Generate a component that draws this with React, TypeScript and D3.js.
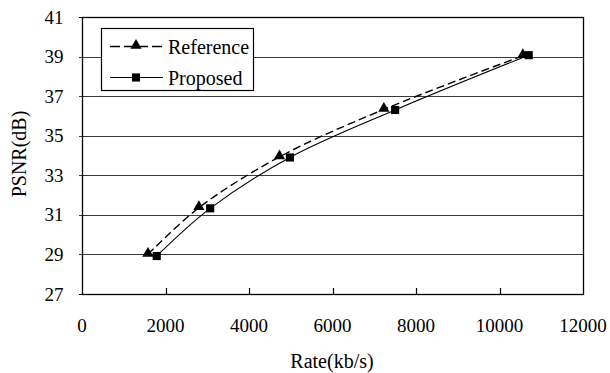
import React, { useEffect, useRef } from "react";
import * as d3 from "d3";

// values
const referenceRate = [1580, 2800, 4730, 7230, 10560];
const referencePsnr = [29.0, 31.36, 33.93, 36.33, 39.04];
const proposedRate = [1790, 3070, 4980, 7500, 10700];
const proposedPsnr = [28.92, 31.33, 33.9, 36.3, 39.07];
const xTicks = [0, 2000, 4000, 6000, 8000, 10000, 12000];
const yTicks = [27, 29, 31, 33, 35, 37, 39, 41];
const seriesNames = ["Reference", "Proposed"];

const W = 610;
const H = 373;
const FONT = "Liberation Serif, DejaVu Serif, serif";

const App = () => {
  const ref = useRef<SVGSVGElement>(null);

  useEffect(() => {
    const svg = d3.select(ref.current);
    svg.selectAll("*").remove();

    const left = 82, right = 583, top = 17, bottom = 294;
    const x = d3.scaleLinear().domain([0, 12000]).range([left, right]);
    const y = d3.scaleLinear().domain([27, 41]).range([bottom, top]);

    // gridlines
    svg.append("g")
      .selectAll("line")
      .data(yTicks.filter((t) => t > 27 && t < 41))
      .join("line")
      .attr("x1", left - 3)
      .attr("x2", right)
      .attr("y1", (d) => Math.round(y(d)) + 0.5)
      .attr("y2", (d) => Math.round(y(d)) + 0.5)
      .attr("stroke", "#3a3a3a")
      .attr("stroke-width", 1.2);

    // plot frame
    svg.append("rect")
      .attr("x", left + 0.5)
      .attr("y", top + 0.5)
      .attr("width", right - left)
      .attr("height", bottom - top)
      .attr("fill", "none")
      .attr("stroke", "#000")
      .attr("stroke-width", 1.3);

    // x ticks pointing into the plot
    svg.append("g")
      .selectAll("line")
      .data(xTicks.filter((t) => t > 0 && t < 12000))
      .join("line")
      .attr("x1", (d) => Math.round(x(d)) + 0.5)
      .attr("x2", (d) => Math.round(x(d)) + 0.5)
      .attr("y1", bottom)
      .attr("y2", bottom - 6)
      .attr("stroke", "#000")
      .attr("stroke-width", 1.2);

    // y tick stubs at ends
    svg.append("g")
      .selectAll("line")
      .data([27, 41])
      .join("line")
      .attr("x1", left - 3)
      .attr("x2", left)
      .attr("y1", (d) => Math.round(y(d)) + 0.5)
      .attr("y2", (d) => Math.round(y(d)) + 0.5)
      .attr("stroke", "#000");

    // tick labels
    svg.append("g")
      .selectAll("text")
      .data(xTicks)
      .join("text")
      .attr("x", (d) => x(d))
      .attr("y", 332)
      .attr("text-anchor", "middle")
      .attr("font-family", FONT)
      .attr("font-size", 19)
      .text((d) => d);

    svg.append("g")
      .selectAll("text")
      .data(yTicks)
      .join("text")
      .attr("x", 63.5)
      .attr("y", (d) => y(d) + 6.5)
      .attr("text-anchor", "end")
      .attr("font-family", FONT)
      .attr("font-size", 19)
      .text((d) => d);

    // axis titles
    svg.append("text")
      .attr("x", 332)
      .attr("y", 368)
      .attr("text-anchor", "middle")
      .attr("font-family", FONT)
      .attr("font-size", 20)
      .text("Rate(kb/s)");

    svg.append("text")
      .attr("transform", "translate(26,154) rotate(-90)")
      .attr("text-anchor", "middle")
      .attr("font-family", FONT)
      .attr("font-size", 20)
      .text("PSNR(dB)");

    // series
    const line = d3.line<[number, number]>()
      .x((d) => x(d[0]))
      .y((d) => y(d[1]))
      .curve(d3.curveCatmullRom.alpha(0.5));

    const refPts: [number, number][] = referenceRate.map((r, i) => [r, referencePsnr[i]]);
    const propPts: [number, number][] = proposedRate.map((r, i) => [r, proposedPsnr[i]]);

    svg.append("path")
      .attr("d", line(refPts))
      .attr("fill", "none")
      .attr("stroke", "#000")
      .attr("stroke-width", 1.4)
      .attr("stroke-dasharray", "8,4");

    svg.append("path")
      .attr("d", line(propPts))
      .attr("fill", "none")
      .attr("stroke", "#000")
      .attr("stroke-width", 1.1);

    const tri = d3.symbol().type(d3.symbolTriangle).size(55);
    const sq = d3.symbol().type(d3.symbolSquare).size(66);

    svg.append("g")
      .selectAll("path")
      .data(refPts)
      .join("path")
      .attr("d", tri)
      .attr("transform", (d) => `translate(${x(d[0])},${y(d[1]) - 1})`)
      .attr("fill", "#000");

    svg.append("g")
      .selectAll("path")
      .data(propPts)
      .join("path")
      .attr("d", sq)
      .attr("transform", (d) => `translate(${x(d[0])},${y(d[1])})`)
      .attr("fill", "#000");

    // legend
    const lg = svg.append("g");
    lg.append("rect")
      .attr("x", 101.5)
      .attr("y", 28.5)
      .attr("width", 152)
      .attr("height", 62)
      .attr("fill", "#fff")
      .attr("stroke", "#000")
      .attr("stroke-width", 1.2);

    seriesNames.forEach((name, i) => {
      const ly = 46.5 + i * 31;
      lg.append("line")
        .attr("x1", 110)
        .attr("x2", 163)
        .attr("y1", ly)
        .attr("y2", ly)
        .attr("stroke", "#000")
        .attr("stroke-width", i === 0 ? 1.4 : 1.1)
        .attr("stroke-dasharray", i === 0 ? "10,4" : null);
      lg.append("path")
        .attr("d", i === 0 ? tri : sq)
        .attr("transform", `translate(136,${i === 0 ? ly - 1 : ly})`)
        .attr("fill", "#000");
      lg.append("text")
        .attr("x", 168)
        .attr("y", ly + 7)
        .attr("font-family", FONT)
        .attr("font-size", 20)
        .text(name);
    });
  }, []);

  return (
    <svg
      ref={ref}
      width={W}
      height={H}
      style={{ position: "absolute", left: 0, top: 0, background: "#fff" }}
    />
  );
};

export default App;
